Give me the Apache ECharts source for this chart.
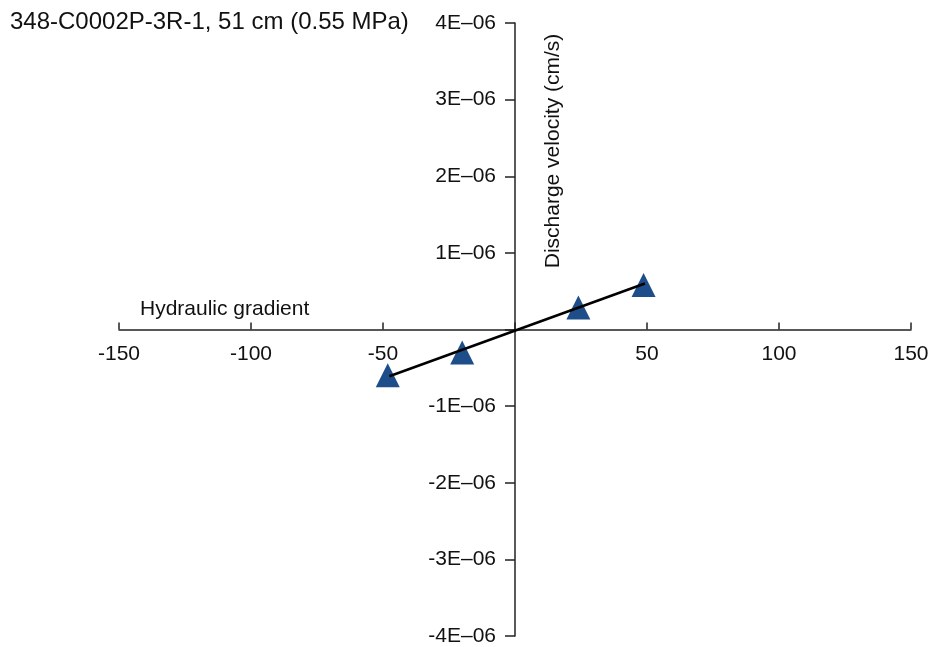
<!DOCTYPE html>
<html>
<head>
<meta charset="utf-8">
<script src="https://cdn.jsdelivr.net/npm/echarts@6/dist/echarts.min.js"></script>
<style>
  html, body { margin: 0; padding: 0; background: #fff; }
  #chart { width: 928px; height: 647px; }
</style>
</head>
<body>
<div id="chart"></div>
<script>
// measured points: hydraulic gradient vs discharge velocity (cm/s)
var gradient = [-48.2, -20.0, 24.0, 48.7];
var velocity = [-0.598e-6, -0.301e-6, 0.288e-6, 0.582e-6];
// fitted line end points
var fitX = [-47.6, 49.2];
var fitY = [-0.61e-6, 0.6e-6];

var titleText = "348-C0002P-3R-1, 51 cm (0.55 MPa)";
var xName = "Hydraulic gradient";
var yName = "Discharge velocity (cm/s)";

var font = "Liberation Sans, Arial, Helvetica, sans-serif";

var chart = echarts.init(document.getElementById("chart"), null, { renderer: "canvas" });

function yLabel(v) {
  var n = Math.round(v / 1e-6);
  if (n === 0) return "";
  return (n < 0 ? "-" + Math.abs(n) : "" + n) + "E\u201306";
}

// axes cross at the origin; labels have to travel with the lines,
// so shift each axis from the grid edge to the zero of the other one
var grid = { left: 119, right: 17, top: 23, bottom: 11 };
var W = 928, H = 647;
var plotW = W - grid.left - grid.right;
var plotH = H - grid.top - grid.bottom;
var xMin = -150, xMax = 150, yMin = -4e-6, yMax = 4e-6;
var yAxisShift = plotW * (0 - xMin) / (xMax - xMin);
var xAxisShift = plotH * (0 - yMin) / (yMax - yMin);

chart.setOption({
  animation: false,
  backgroundColor: "#fff",
  textStyle: { fontFamily: font },
  grid: Object.assign({ outerBoundsMode: "none" }, grid),
  graphic: [
    {
      type: "text", left: 10, top: 10,
      style: { text: titleText, font: "24px " + font, fill: "#111" }
    },
    {
      type: "text", left: 140, top: 299,
      style: { text: xName, font: "21px " + font, fill: "#111" }
    },
    {
      type: "text", x: 553, y: 151, rotation: Math.PI / 2,
      style: { text: yName, font: "21px " + font, fill: "#111", align: "center", verticalAlign: "middle" }
    }
  ],
  xAxis: {
    type: "value",
    min: xMin, max: xMax, interval: 50,
    offset: -xAxisShift,
    splitLine: { show: false },
    axisLine: { onZero: false, lineStyle: { color: "#222", width: 1.5 } },
    axisTick: { inside: true, length: 7, lineStyle: { color: "#222", width: 1.5 } },
    axisLabel: {
      margin: 14, fontSize: 21, color: "#111", fontFamily: font,
      formatter: function (v) { return v === 0 ? "" : String(v); }
    }
  },
  yAxis: {
    type: "value",
    min: yMin, max: yMax, interval: 1e-6,
    offset: -yAxisShift,
    splitLine: { show: false },
    axisLine: { onZero: false, lineStyle: { color: "#222", width: 1.5 } },
    axisTick: { length: 10, lineStyle: { color: "#222", width: 1.5 } },
    axisLabel: { margin: 19, fontSize: 21, color: "#111", fontFamily: font, formatter: yLabel }
  },
  series: [
    {
      type: "line",
      data: fitX.map(function (x, i) { return [x, fitY[i]]; }),
      showSymbol: false,
      lineStyle: { color: "#000", width: 2.5 },
      z: 3
    },
    {
      type: "scatter",
      data: gradient.map(function (x, i) { return [x, velocity[i]]; }),
      symbol: "triangle",
      symbolSize: 24,
      itemStyle: { color: "#1d4e89", opacity: 1 },
      z: 2
    }
  ]
});
</script>
</body>
</html>
